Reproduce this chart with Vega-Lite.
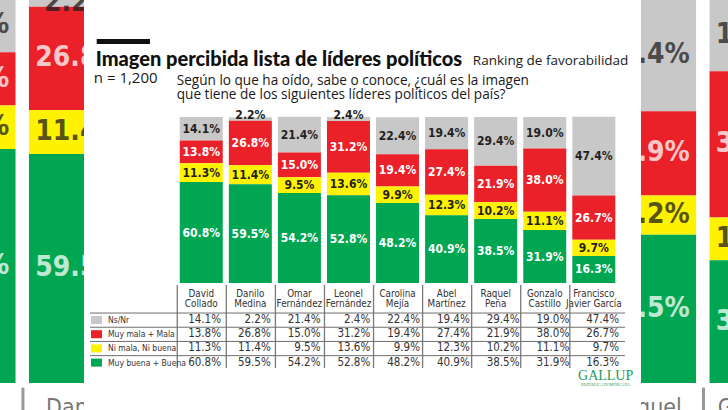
{
  "$schema": "https://vega.github.io/schema/vega-lite/v6.json",
  "width": 728,
  "height": 410,
  "padding": 0,
  "autosize": {"type": "none"},
  "background": "#ffffff",
  "config": {
    "view": {"stroke": null},
    "axis": {"disable": true},
    "legend": {"disable": true},
    "text": {"font": "DejaVu Sans Condensed, Roboto"}
  },
  "datasets": {
    "encuesta": [
      {"orden": 1, "serie": "Ns/Nr", "valor": 14.1},
      {"orden": 1, "serie": "Muy mala + Mala", "valor": 13.8},
      {"orden": 1, "serie": "Ni mala, Ni buena", "valor": 11.3},
      {"orden": 1, "serie": "Muy buena + Buena", "valor": 60.8},
      {"orden": 2, "serie": "Ns/Nr", "valor": 2.2},
      {"orden": 2, "serie": "Muy mala + Mala", "valor": 26.8},
      {"orden": 2, "serie": "Ni mala, Ni buena", "valor": 11.4},
      {"orden": 2, "serie": "Muy buena + Buena", "valor": 59.5},
      {"orden": 3, "serie": "Ns/Nr", "valor": 21.4},
      {"orden": 3, "serie": "Muy mala + Mala", "valor": 15.0},
      {"orden": 3, "serie": "Ni mala, Ni buena", "valor": 9.5},
      {"orden": 3, "serie": "Muy buena + Buena", "valor": 54.2},
      {"orden": 4, "serie": "Ns/Nr", "valor": 2.4},
      {"orden": 4, "serie": "Muy mala + Mala", "valor": 31.2},
      {"orden": 4, "serie": "Ni mala, Ni buena", "valor": 13.6},
      {"orden": 4, "serie": "Muy buena + Buena", "valor": 52.8},
      {"orden": 5, "serie": "Ns/Nr", "valor": 22.4},
      {"orden": 5, "serie": "Muy mala + Mala", "valor": 19.4},
      {"orden": 5, "serie": "Ni mala, Ni buena", "valor": 9.9},
      {"orden": 5, "serie": "Muy buena + Buena", "valor": 48.2},
      {"orden": 6, "serie": "Ns/Nr", "valor": 19.4},
      {"orden": 6, "serie": "Muy mala + Mala", "valor": 27.4},
      {"orden": 6, "serie": "Ni mala, Ni buena", "valor": 12.3},
      {"orden": 6, "serie": "Muy buena + Buena", "valor": 40.9},
      {"orden": 7, "serie": "Ns/Nr", "valor": 29.4},
      {"orden": 7, "serie": "Muy mala + Mala", "valor": 21.9},
      {"orden": 7, "serie": "Ni mala, Ni buena", "valor": 10.2},
      {"orden": 7, "serie": "Muy buena + Buena", "valor": 38.5},
      {"orden": 8, "serie": "Ns/Nr", "valor": 19.0},
      {"orden": 8, "serie": "Muy mala + Mala", "valor": 38.0},
      {"orden": 8, "serie": "Ni mala, Ni buena", "valor": 11.1},
      {"orden": 8, "serie": "Muy buena + Buena", "valor": 31.9},
      {"orden": 9, "serie": "Ns/Nr", "valor": 47.4},
      {"orden": 9, "serie": "Muy mala + Mala", "valor": 26.7},
      {"orden": 9, "serie": "Ni mala, Ni buena", "valor": 9.7},
      {"orden": 9, "serie": "Muy buena + Buena", "valor": 16.3}
    ],
    "candidatos": [
      {"orden": 1, "nombre": "David\nCollado"},
      {"orden": 2, "nombre": "Danilo\nMedina"},
      {"orden": 3, "nombre": "Omar\nFernández"},
      {"orden": 4, "nombre": "Leonel\nFernández"},
      {"orden": 5, "nombre": "Carolina\nMejía"},
      {"orden": 6, "nombre": "Abel\nMartínez"},
      {"orden": 7, "nombre": "Raquel\nPeña"},
      {"orden": 8, "nombre": "Gonzalo\nCastillo"},
      {"orden": 9, "nombre": "Francisco\nJavier García"}
    ],
    "series": [
      {"serie": "Ns/Nr"},
      {"serie": "Muy mala + Mala"},
      {"serie": "Ni mala, Ni buena"},
      {"serie": "Muy buena + Buena"}
    ]
  },
  "resolve": {"scale": {"x": "independent", "y": "independent"}},
  "layer": [
    {
      "description": "Enlarged copy of the outer bars behind the card",
      "layer": [
        {
          "data": {"name": "encuesta"},
          "transform": [
            {"filter": {"field": "orden", "oneOf": [1, 2, 7, 8]}},
            {"calculate": "indexof(['Muy buena + Buena','Ni mala, Ni buena','Muy mala + Mala','Ns/Nr'], datum.serie)", "as": "nivel"},
            {"stack": "valor", "groupby": ["orden"], "sort": [{"field": "nivel"}], "as": ["y0", "y1"]},
            {"calculate": "(datum.y0 + datum.y1) / 2", "as": "ymid"},
            {"calculate": "format(datum.valor, '.1f') + '%'", "as": "etiqueta"}
          ],
          "layer": [
            {
              "mark": {"type": "bar", "size": 100},
              "encoding": {
                "x": {"field": "orden", "type": "quantitative", "scale": {"domain": [1.348, 7.678], "nice": false, "zero": false}},
                "y": {"field": "y0", "type": "quantitative", "scale": {"domain": [-7.01, 99.48], "nice": false, "zero": false}},
                "y2": {"field": "y1"},
                "color": {"field": "serie", "type": "nominal", "scale": {"domain": ["Ns/Nr", "Muy mala + Mala", "Ni mala, Ni buena", "Muy buena + Buena"], "range": ["#c8c8c8", "#ea2128", "#fff200", "#00a651"]}}
              }
            },
            {
              "mark": {"type": "text", "fontSize": 28, "fontWeight": "bold", "baseline": "middle", "opacity": 0.75},
              "encoding": {
                "x": {"field": "orden", "type": "quantitative", "scale": {"domain": [1.348, 7.678], "nice": false, "zero": false}},
                "y": {"field": "ymid", "type": "quantitative", "scale": {"domain": [-7.01, 99.48], "nice": false, "zero": false}},
                "text": {"field": "etiqueta"},
                "color": {"condition": {"test": "datum.serie === 'Muy mala + Mala' || datum.serie === 'Muy buena + Buena'", "value": "#ffffff"}, "value": "#231f20"}
              }
            }
          ]
        },
        {
          "data": {"name": "candidatos"},
          "transform": [{"filter": {"field": "orden", "oneOf": [1, 2, 7, 8]}}],
          "layer": [
            {
              "mark": {"type": "text", "fontSize": 23, "baseline": "alphabetic", "lineBreak": "\n", "lineHeight": 23, "color": "#777777"},
              "encoding": {
                "x": {"field": "orden", "type": "quantitative", "scale": {"domain": [1.348, 7.678], "nice": false, "zero": false}},
                "y": {"datum": -8.25, "type": "quantitative", "scale": {"domain": [-7.01, 99.48], "nice": false, "zero": false}},
                "text": {"field": "nombre"}
              }
            },
            {
              "mark": {"type": "rule", "xOffset": -56, "color": "#999999", "strokeWidth": 3},
              "encoding": {
                "x": {"field": "orden", "type": "quantitative", "scale": {"domain": [1.348, 7.678], "nice": false, "zero": false}},
                "y": {"datum": -1.2, "type": "quantitative", "scale": {"domain": [-7.01, 99.48], "nice": false, "zero": false}},
                "y2": {"datum": -7.01}
              }
            }
          ]
        }
      ]
    },
    {
      "description": "White card holding the chart",
      "data": {"values": [{}]},
      "mark": {"type": "rect", "color": "#ffffff"},
      "encoding": {
        "x": {"datum": -1.3116, "type": "quantitative", "scale": {"domain": [-3, 11.633], "nice": false, "zero": false}},
        "x2": {"datum": 9.884},
        "y": {"datum": -76.5, "type": "quantitative", "scale": {"domain": [-76.5, 170.5], "nice": false, "zero": false}},
        "y2": {"datum": 170.5}
      }
    },
    {
      "description": "Header, bars, bar labels and candidate names",
      "layer": [
        {
          "data": {"values": [{}]},
          "mark": {"type": "rect", "color": "#111111"},
          "encoding": {
            "x": {"datum": -1.1307, "type": "quantitative", "scale": {"domain": [-3, 11.633], "nice": false, "zero": false}},
            "x2": {"datum": -0.0452},
            "y": {"datum": 147.0, "type": "quantitative", "scale": {"domain": [-76.5, 170.5], "nice": false, "zero": false}},
            "y2": {"datum": 144.0}
          }
        },
        {
          "data": {"values": [{"texto": "Imagen percibida lista de líderes políticos"}]},
          "mark": {"type": "text", "font": "Lato", "fontWeight": 900, "fontSize": 20, "letterSpacing": 0.45, "align": "left", "baseline": "alphabetic", "color": "#111111"},
          "encoding": {
            "x": {"datum": -1.1508, "type": "quantitative", "scale": {"domain": [-3, 11.633], "nice": false, "zero": false}},
            "y": {"datum": 130.9, "type": "quantitative", "scale": {"domain": [-76.5, 170.5], "nice": false, "zero": false}},
            "text": {"field": "texto"}
          }
        },
        {
          "data": {"values": [{"texto": "Ranking de favorabilidad"}]},
          "mark": {"type": "text", "font": "Open Sans", "fontSize": 13.5, "align": "right", "baseline": "alphabetic", "color": "#1a1a1a"},
          "encoding": {
            "x": {"datum": 9.7035, "type": "quantitative", "scale": {"domain": [-3, 11.633], "nice": false, "zero": false}},
            "y": {"datum": 131.3, "type": "quantitative", "scale": {"domain": [-76.5, 170.5], "nice": false, "zero": false}},
            "text": {"field": "texto"}
          }
        },
        {
          "data": {"values": [{"texto": "n = 1,200"}]},
          "mark": {"type": "text", "font": "Open Sans", "fontSize": 15, "align": "left", "baseline": "alphabetic", "color": "#1a1a1a"},
          "encoding": {
            "x": {"datum": -1.19, "type": "quantitative", "scale": {"domain": [-3, 11.633], "nice": false, "zero": false}},
            "y": {"datum": 120.7, "type": "quantitative", "scale": {"domain": [-76.5, 170.5], "nice": false, "zero": false}},
            "text": {"field": "texto"}
          }
        },
        {
          "data": {"values": [{"texto": "Según lo que ha oído, sabe o conoce, ¿cuál es la imagen\nque tiene de los siguientes líderes políticos del país?"}]},
          "mark": {"type": "text", "font": "Open Sans", "fontSize": 13.6, "align": "left", "baseline": "alphabetic", "lineBreak": "\n", "lineHeight": 14, "color": "#1a1a1a"},
          "encoding": {
            "x": {"datum": 0.5, "type": "quantitative", "scale": {"domain": [-3, 11.633], "nice": false, "zero": false}},
            "y": {"datum": 119.5, "type": "quantitative", "scale": {"domain": [-76.5, 170.5], "nice": false, "zero": false}},
            "text": {"field": "texto"}
          }
        },
        {
          "data": {"name": "encuesta"},
          "transform": [
            {"calculate": "indexof(['Muy buena + Buena','Ni mala, Ni buena','Muy mala + Mala','Ns/Nr'], datum.serie)", "as": "nivel"},
            {"stack": "valor", "groupby": ["orden"], "sort": [{"field": "nivel"}], "as": ["y0", "y1"]},
            {"calculate": "datum.valor < 5 ? datum.y1 + 1.3 : (datum.y0 + datum.y1) / 2", "as": "ymid"},
            {"calculate": "format(datum.valor, '.1f') + '%'", "as": "etiqueta"}
          ],
          "layer": [
            {
              "mark": {"type": "bar", "size": 43},
              "encoding": {
                "x": {"field": "orden", "type": "quantitative", "scale": {"domain": [-3, 11.633], "nice": false, "zero": false}},
                "y": {"field": "y0", "type": "quantitative", "scale": {"domain": [-76.5, 170.5], "nice": false, "zero": false}},
                "y2": {"field": "y1"},
                "color": {"field": "serie", "type": "nominal", "scale": {"domain": ["Ns/Nr", "Muy mala + Mala", "Ni mala, Ni buena", "Muy buena + Buena"], "range": ["#c8c8c8", "#ea2128", "#fff200", "#00a651"]}}
              }
            },
            {
              "mark": {"type": "text", "fontSize": 12, "fontWeight": "bold", "baseline": "middle"},
              "encoding": {
                "x": {"field": "orden", "type": "quantitative", "scale": {"domain": [-3, 11.633], "nice": false, "zero": false}},
                "y": {"field": "ymid", "type": "quantitative", "scale": {"domain": [-76.5, 170.5], "nice": false, "zero": false}},
                "text": {"field": "etiqueta"},
                "color": {"condition": {"test": "(datum.serie === 'Muy mala + Mala' || datum.serie === 'Muy buena + Buena')", "value": "#ffffff"}, "value": "#231f20"}
              }
            }
          ]
        },
        {
          "data": {"name": "candidatos"},
          "layer": [
            {
              "mark": {"type": "text", "fontSize": 9.8, "baseline": "alphabetic", "lineBreak": "\n", "lineHeight": 10, "color": "#333333"},
              "encoding": {
                "x": {"field": "orden", "type": "quantitative", "scale": {"domain": [-3, 11.633], "nice": false, "zero": false}},
                "y": {"datum": -8.2, "type": "quantitative", "scale": {"domain": [-76.5, 170.5], "nice": false, "zero": false}},
                "text": {"field": "nombre"}
              }
            },
            {
              "mark": {"type": "rule", "xOffset": -24, "color": "#7a7a7a", "strokeWidth": 1.3},
              "encoding": {
                "x": {"field": "orden", "type": "quantitative", "scale": {"domain": [-3, 11.633], "nice": false, "zero": false}},
                "y": {"datum": -1.2, "type": "quantitative", "scale": {"domain": [-76.5, 170.5], "nice": false, "zero": false}},
                "y2": {"datum": -51.2}
              }
            }
          ]
        },
        {
          "data": {"values": [{"texto": "GALLUP"}]},
          "mark": {"type": "text", "font": "Liberation Serif", "fontSize": 14, "align": "center", "baseline": "alphabetic", "color": "#1f9a55", "letterSpacing": 0.3},
          "encoding": {
            "x": {"datum": 9.241, "type": "quantitative", "scale": {"domain": [-3, 11.633], "nice": false, "zero": false}},
            "y": {"datum": -58.4, "type": "quantitative", "scale": {"domain": [-76.5, 170.5], "nice": false, "zero": false}},
            "text": {"field": "texto"}
          }
        },
        {
          "data": {"values": [{"texto": "REPÚBLICA DOMINICANA"}]},
          "mark": {"type": "text", "font": "Liberation Serif", "fontSize": 4, "align": "center", "baseline": "alphabetic", "color": "#1f9a55"},
          "encoding": {
            "x": {"datum": 9.241, "type": "quantitative", "scale": {"domain": [-3, 11.633], "nice": false, "zero": false}},
            "y": {"datum": -62.0, "type": "quantitative", "scale": {"domain": [-76.5, 170.5], "nice": false, "zero": false}},
            "text": {"field": "texto"}
          }
        }
      ]
    },
    {
      "description": "Data table under the bars; fila is the table row of each series",
      "layer": [
        {
          "data": {"name": "series"},
          "transform": [
            {"calculate": "indexof(['Ns/Nr','Muy mala + Mala','Ni mala, Ni buena','Muy buena + Buena'], datum.serie)", "as": "fila"},
            {"calculate": "datum.fila - 0.49", "as": "borde"}
          ],
          "layer": [
            {
              "mark": {"type": "rule", "color": "#6e6e6e", "strokeWidth": 1},
              "encoding": {
                "x": {"datum": -1.191, "type": "quantitative", "scale": {"domain": [-3, 11.633], "nice": false, "zero": false}},
                "x2": {"datum": 9.563},
                "y": {"field": "borde", "type": "quantitative", "scale": {"domain": [-22.535, 6.338], "reverse": true, "nice": false, "zero": false}}
              }
            },
            {
              "mark": {"type": "point", "shape": "M-1,-0.73L1,-0.73L1,0.73L-1,0.73Z", "filled": true, "opacity": 1, "size": 121},
              "encoding": {
                "x": {"datum": -1.0603, "type": "quantitative", "scale": {"domain": [-3, 11.633], "nice": false, "zero": false}},
                "y": {"field": "fila", "type": "quantitative", "scale": {"domain": [-22.535, 6.338], "reverse": true, "nice": false, "zero": false}},
                "color": {"field": "serie", "type": "nominal", "scale": {"domain": ["Ns/Nr", "Muy mala + Mala", "Ni mala, Ni buena", "Muy buena + Buena"], "range": ["#c8c8c8", "#ea2128", "#fff200", "#00a651"]}}
              }
            },
            {
              "mark": {"type": "text", "fontSize": 8.5, "align": "left", "baseline": "middle", "color": "#333333"},
              "encoding": {
                "x": {"datum": -0.829, "type": "quantitative", "scale": {"domain": [-3, 11.633], "nice": false, "zero": false}},
                "y": {"field": "fila", "type": "quantitative", "scale": {"domain": [-22.535, 6.338], "reverse": true, "nice": false, "zero": false}},
                "text": {"field": "serie"}
              }
            }
          ]
        },
        {
          "data": {"name": "encuesta"},
          "transform": [
            {"calculate": "indexof(['Ns/Nr','Muy mala + Mala','Ni mala, Ni buena','Muy buena + Buena'], datum.serie)", "as": "fila"},
            {"calculate": "format(datum.valor, '.1f') + '%'", "as": "etiqueta"}
          ],
          "mark": {"type": "text", "fontSize": 11.5, "align": "right", "baseline": "middle", "dx": 22, "color": "#333333"},
          "encoding": {
            "x": {"field": "orden", "type": "quantitative", "scale": {"domain": [-3, 11.633], "nice": false, "zero": false}},
            "y": {"field": "fila", "type": "quantitative", "scale": {"domain": [-22.535, 6.338], "reverse": true, "nice": false, "zero": false}},
            "text": {"field": "etiqueta"}
          }
        }
      ]
    }
  ]
}
